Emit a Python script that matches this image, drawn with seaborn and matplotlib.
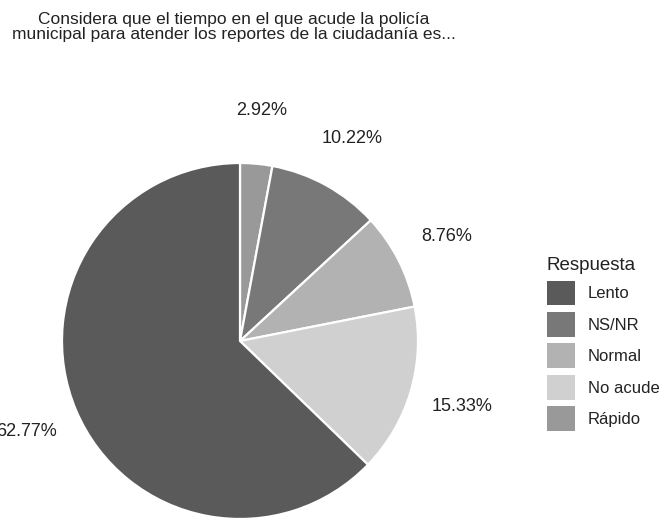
import matplotlib
matplotlib.use("Agg")
import matplotlib.pyplot as plt
import matplotlib.patches as mpatches
import seaborn as sns

sns.set_theme(style="white")
plt.rcParams['font.family'] = ['Liberation Sans', 'DejaVu Sans']

title = "Considera que el tiempo en el que acude la policía\nmunicipal para atender los reportes de la ciudadanía es..."
categories = ["Rápido", "NS/NR", "Normal", "No acude", "Lento"]
values = [2.92, 10.22, 8.76, 15.33, 62.77]
labels = ["2.92%", "10.22%", "8.76%", "15.33%", "62.77%"]
legend_order = ["Lento", "NS/NR", "Normal", "No acude", "Rápido"]
colors = {"Lento": "#5a5a5a", "NS/NR": "#787878", "Normal": "#b2b2b2",
          "No acude": "#d0d0d0", "Rápido": "#999999"}

W, H, DPI = 659, 519, 100
fig = plt.figure(figsize=(W / DPI, H / DPI), dpi=DPI)
fig.patch.set_facecolor("white")

cx, cy, r = 240, 341, 178
ax = fig.add_axes([(cx - r) / W, (H - cy - r) / H, 2 * r / W, 2 * r / H])
ax.pie(values, labels=labels, colors=[colors[c] for c in categories],
       startangle=90, counterclock=False, labeldistance=1.3,
       wedgeprops=dict(edgecolor="white", linewidth=1.6),
       textprops=dict(fontsize=13, color="#222222", ha="center", va="center"))
ax.set_xlim(-1, 1)
ax.set_ylim(-1, 1)
ax.set_aspect("equal")
ax.axis("off")

fig.text(234 / W, 1 - 27 / H, title, ha="center", va="center", fontsize=12.5,
         color="#222222", linespacing=0.92)

handles = [mpatches.Patch(facecolor=colors[c], edgecolor="none") for c in legend_order]
leg = fig.legend(handles, legend_order, loc="upper left",
                 bbox_to_anchor=(547 / W, 1 - 257 / H), frameon=False,
                 title="Respuesta", fontsize=12, title_fontsize=13.5,
                 handlelength=1.68, handleheight=1.93, labelspacing=0.39,
                 handletextpad=0.78, borderaxespad=0, borderpad=0)
leg._legend_box.align = "left"
for t in leg.get_texts():
    t.set_color("#222222")
leg.get_title().set_color("#222222")

fig.savefig("out.png", dpi=DPI, facecolor="white")
